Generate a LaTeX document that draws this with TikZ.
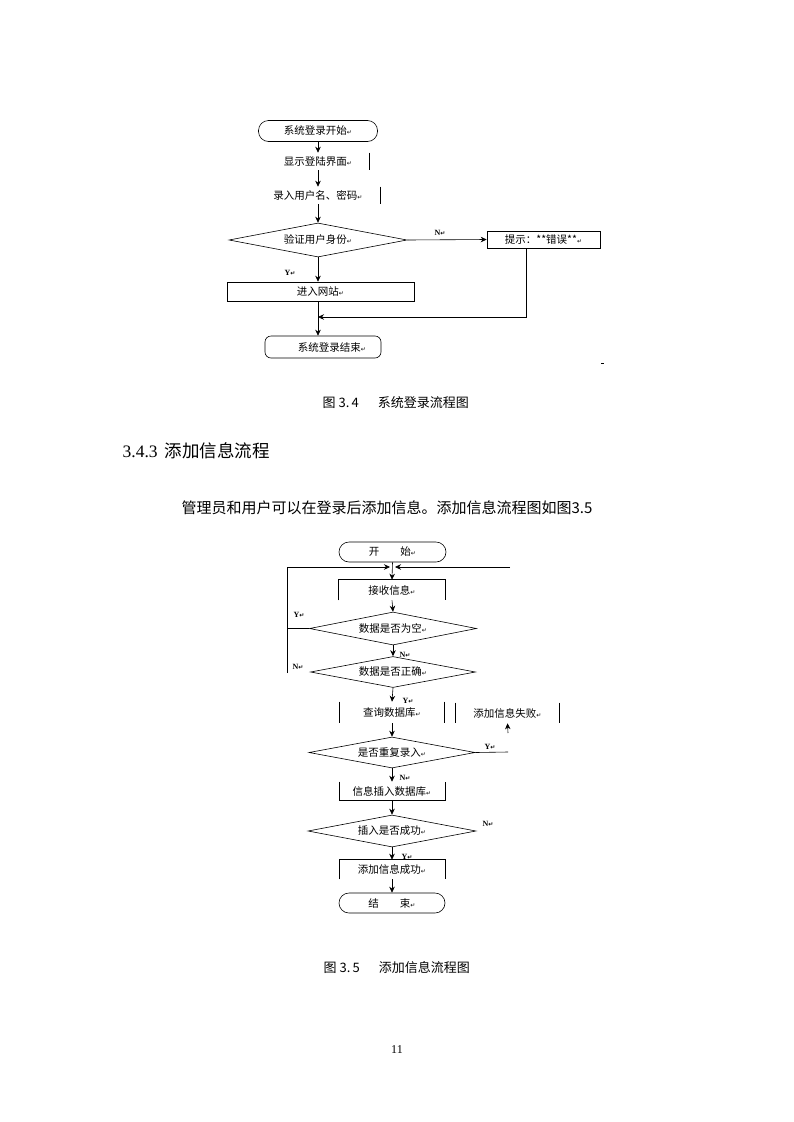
\documentclass[tikz,border=0pt]{standalone}
\usepackage{fontspec}
\setmainfont{Liberation Serif}
\newfontfamily\cjk{Noto Sans CJK SC}
\newfontfamily\symfont{DejaVu Sans}
\usetikzlibrary{shapes.geometric,arrows.meta}
\newcommand{\ret}{{\symfont\fontsize{6}{6}\selectfont ↵}}
\tikzset{
  >={Stealth[length=6pt,width=5.5pt]},
  every node/.style={font=\cjk\fontsize{10.5}{12}\selectfont},
  startend/.style={draw,rounded corners=10pt,minimum height=21pt,inner sep=0pt},
  plainbox/.style={draw,inner sep=0pt},
  textbox/.style={inner sep=0pt},
  decide/.style={draw,diamond,aspect=5,inner sep=0pt},
  lbl/.style={font=\fontsize{8}{9}\selectfont\bfseries,inner sep=0pt},
}
\begin{document}
\begin{tikzpicture}[x=1pt,y=-1pt,line width=0.6pt]
    \fill[white] (0,0) rectangle (793,1122);
    \useasboundingbox (0,0) rectangle (793,1122);
    \node[startend,minimum width=119pt] (begin) at (318,131) {系统登录开始\ret};
    \node[textbox,minimum width=102pt,minimum height=17pt] (show) at (318,161.5) {显示登陆界面\ret};
    \draw (show.north east) -- (show.south east);
    \node[textbox,minimum width=124pt,minimum height=17pt] (input) at (318,195.5) {录入用户名、密码\ret};
    \draw (input.north east) -- (input.south east);
    \node[decide,minimum width=178pt,minimum height=34pt] (check) at (318,240) {验证用户身份\ret};
    \node[plainbox,minimum width=113pt,minimum height=17pt] (warn) at (543.5,239.5) {提示：**错误**\ret};
    \node[plainbox,minimum width=187pt,minimum height=19pt] (site) at (320.5,291.5) {进入网站\ret};
    \node[startend,rounded corners=6pt,minimum width=116pt,minimum height=22pt] (finish) at (323,347) {\hspace{18pt}系统登录结束\ret};
    \coordinate (back) at (318,317);
    \draw[->] (begin.south) -- (show.north);
    \draw[->] (show.south) -- (input.north);
    \draw[->] (input.south) -- (check.north);
    \draw[->] (check.east) -- (warn.west);
    \draw[->] (check.south) -- (check.south |- site.north);
    \draw[->] (check.south |- site.south) -- (check.south |- finish.north);
    \draw[->] ([xshift=-17.5pt]warn.south) |- (back);
    \node[lbl] (no1) at (440,233) {N\ret};
    \node[lbl] (yes1) at (290,273) {Y\ret};
    \draw[line width=0.5pt] (601,363) -- (604,363);
    \node[font=\cjk\fontsize{13}{15}\selectfont,anchor=west] (cap1) at (319,403) {图 3.\,4\hspace{19pt}系统登录流程图};
    \node[anchor=west,font=\fontsize{17.5}{20}\selectfont] (head) at (119,451) {3.4.3\hspace{7pt}{\cjk 添加信息流程}};
    \node[anchor=west,font=\cjk\fontsize{15}{17}\selectfont] (para) at (178,508) {管理员和用户可以在登录后添加信息。添加信息流程图如图3.5};
    \node[startend,minimum width=107pt,minimum height=20pt] (open) at (392.5,552) {开\hspace{2em}始\ret};
    \node[textbox,minimum width=106pt,minimum height=20pt] (recv) at (392,590) {接收信息\ret};
    \draw (recv.south west) -- (recv.north west) -- (recv.north east) -- (recv.south east);
    \node[decide,minimum width=167pt,minimum height=33pt] (empty) at (393,628.5) {数据是否为空\ret};
    \node[decide,minimum width=165pt,minimum height=31pt] (valid) at (393,672) {数据是否正确\ret};
    \node[textbox,minimum width=104pt,minimum height=21pt] (query) at (392,712.5) {查询数据库\ret};
    \draw (query.north west) -- (query.south west) (query.north east) -- (query.south east);
    \node[textbox,minimum width=103pt,minimum height=20pt] (fail) at (507.5,713) {添加信息失败\ret};
    \draw (fail.north west) -- (fail.south west) (fail.north east) -- (fail.south east);
    \node[decide,minimum width=166pt,minimum height=31pt] (dup) at (392,752.5) {是否重复录入\ret};
    \node[textbox,minimum width=105pt,minimum height=18pt] (save) at (392,791) {信息插入数据库\ret};
    \draw (save.north west) -- (save.south west) -- (save.south east) -- (save.north east);
    \node[decide,minimum width=168pt,minimum height=32pt] (done) at (392,831) {插入是否成功\ret};
    \node[textbox,minimum width=105pt,minimum height=19pt] (okay) at (392,869.5) {添加信息成功\ret};
    \draw (okay.south west) -- (okay.north west) -- (okay.north east) -- (okay.south east);
    \node[startend,minimum width=106pt,minimum height=20pt] (stop) at (392,903) {结\hspace{2em}束\ret};
    \coordinate (join) at (392,567);
    \coordinate (ltop) at (287,567);
    \coordinate (lbot) at (287,673);
    \coordinate (rtop) at (510,567);
    \coordinate (yend) at (508,752);
    \coordinate (tail) at (508,733);
    \draw[->] (open.south) -- (recv.north);
    \draw[->] (lbot) -- (ltop) -- ([xshift=-2pt]join);
    \draw[->] (rtop) -- ([xshift=3pt]join);
    \draw (empty.west) -- (empty.west -| ltop);
    \draw[->] (recv.south) -- (empty.north);
    \draw[->] (empty.south) -- (valid.north);
    \draw[->] (valid.south) -- (query.north);
    \draw[->] (query.south) -- (dup.north);
    \draw (dup.east) -- (yend);
    \draw[->] (tail) -- (fail.south);
    \draw[->] (dup.south) -- (save.north);
    \draw[->] (save.south) -- (done.north);
    \draw[->] (done.south) -- (okay.north);
    \draw[->] (okay.south) -- (stop.north);
    \node[lbl] (yes2) at (299,615) {Y\ret};
    \node[lbl] (no2) at (405,655) {N\ret};
    \node[lbl] (no3) at (298,667) {N\ret};
    \node[lbl] (yes3) at (408,701) {Y\ret};
    \node[lbl] (yes4) at (490,747) {Y\ret};
    \node[lbl] (no4) at (405,778) {N\ret};
    \node[lbl] (no5) at (488,824) {N\ret};
    \node[lbl] (yes5) at (407,857) {Y\ret};
    \node[font=\cjk\fontsize{13}{15}\selectfont,anchor=west] (cap2) at (320,968) {图 3.\,5\hspace{19pt}添加信息流程图};
    \node[font=\fontsize{12}{14}\selectfont] (page) at (397,1050) {11};
\end{tikzpicture}
\end{document}
